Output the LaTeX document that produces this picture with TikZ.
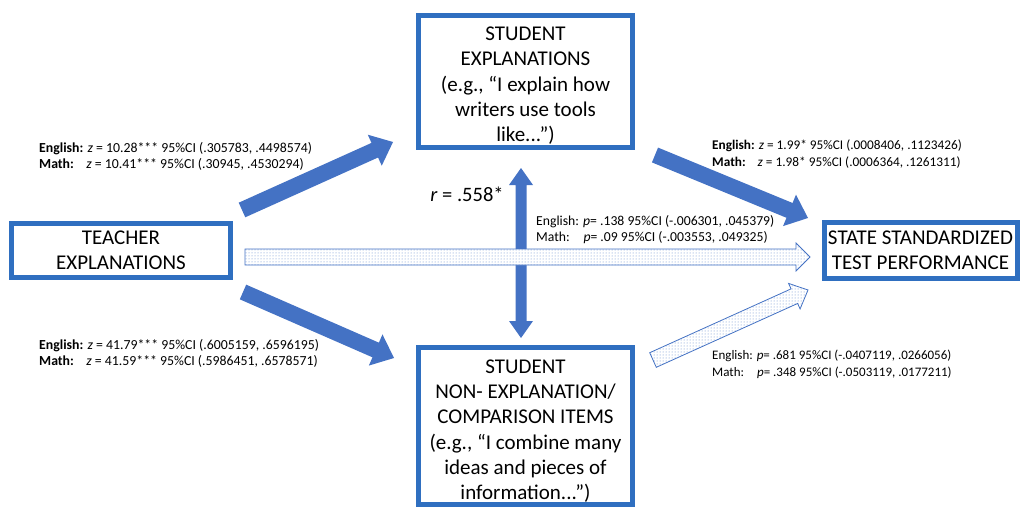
\documentclass[tikz,border=0pt]{standalone}
\usepackage{fontspec}
\setmainfont{Carlito}
\usetikzlibrary{calc,patterns}
\definecolor{arrblue}{RGB}{68,114,196}
\definecolor{boxblue}{RGB}{47,111,192}
% #1 style, #2 tail, #3 tip, #4 half shaft, #5 half head, #6 head length
\newcommand{\blockarr}[6]{%
  \coordinate (bA) at ($(#3)!#6!(#2)$);
  \path[#1] ($(#2)!#4!90:(#3)$) -- ($(bA)!#4!90:(#3)$) -- ($(bA)!#5!90:(#3)$) -- (#3)
    -- ($(bA)!#5!-90:(#3)$) -- ($(bA)!#4!-90:(#3)$) -- ($(#2)!#4!-90:(#3)$) -- cycle;}
\newcommand{\dblarr}[6]{%
  \coordinate (bA) at ($(#3)!#6!(#2)$);
  \coordinate (bB) at ($(#2)!#6!(#3)$);
  \path[#1] (#2) -- ($(bB)!#5!90:(#3)$) -- ($(bB)!#4!90:(#3)$) -- ($(bA)!#4!90:(#3)$)
    -- ($(bA)!#5!90:(#3)$) -- (#3) -- ($(bA)!#5!-90:(#3)$) -- ($(bA)!#4!-90:(#3)$)
    -- ($(bB)!#4!-90:(#3)$) -- ($(bB)!#5!-90:(#3)$) -- cycle;}
\tikzset{
  box/.style={draw=boxblue, line width=5pt, fill=white, align=center, inner sep=2pt,
    font=\fontsize{21}{25.3}\selectfont},
  solidarr/.style={fill=arrblue},
  dotarr/.style={draw=arrblue, line width=0.8pt, preaction={fill=white},
    pattern=dots, pattern color=arrblue!85},
  stat/.style={anchor=north west, align=left, inner sep=0pt},
}
\begin{document}
\begin{tikzpicture}[x=1pt,y=-1pt]
\useasboundingbox (0,0) rectangle (1022,508);

\node[box, minimum width=214pt, minimum height=132pt] (se) at (525.5,81.5)
  {\rule{0pt}{22pt}STUDENT\\EXPLANATIONS\\(e.g., “I explain how\\writers use tools\\like...”)};
\node[box, minimum width=219pt, minimum height=54pt] (te) at (121,250.5)
  {TEACHER\\EXPLANATIONS};
\node[box, minimum width=193pt, minimum height=56pt] (st) at (920.5,250.5)
  {STATE STANDARDIZED\\TEST PERFORMANCE};
\node[box, minimum width=214pt, minimum height=157pt] (ne) at (525.5,426)
  {\rule{0pt}{24pt}STUDENT\\NON- EXPLANATION/\\COMPARISON ITEMS\\(e.g., “I combine many\\ideas and pieces of\\information...”)};

% connector end points
\coordinate (a1t) at (242,210);  \coordinate (a1h) at (393,142);
\coordinate (a2t) at (243,292);  \coordinate (a2h) at (394,358);
\coordinate (a3t) at (655,155);  \coordinate (a3h) at (808,218);
\coordinate (vt) at (521,168);   \coordinate (vb) at (521,338);
\coordinate (ht) at (245,257);   \coordinate (hh) at (810,257);
\coordinate (dt) at (653,360);   \coordinate (dh) at (808,290);

\blockarr{solidarr}{a1t}{a1h}{8pt}{17pt}{20pt}
\blockarr{solidarr}{a2t}{a2h}{8pt}{17pt}{20pt}
\blockarr{solidarr}{a3t}{a3h}{8pt}{17pt}{20pt}
\dblarr{solidarr}{vt}{vb}{5.5pt}{12pt}{17pt}
\blockarr{dotarr}{ht}{hh}{8pt}{14pt}{14pt}
\blockarr{dotarr}{dt}{dh}{8pt}{14pt}{15pt}

\node[font=\fontsize{20.5}{24}\selectfont] (r) at (467,194) {\textit{r} = .558*};

\node[stat, font=\fontsize{13.8}{16.3}\selectfont] (l1) at (39,142)
  {\textbf{English:} \textit{z} = 10.28*** 95\%CI (.305783, .4498574)\\
  \textbf{Math:}\hspace{0.9em}\textit{z} = 10.41*** 95\%CI (.30945, .4530294)};
\node[stat, font=\fontsize{13.8}{16.3}\selectfont] (l2) at (39,339)
  {\textbf{English:} \textit{z} = 41.79*** 95\%CI (.6005159, .6596195)\\
  \textbf{Math:}\hspace{0.9em}\textit{z} = 41.59*** 95\%CI (.5986451, .6578571)};
\node[stat, font=\fontsize{13.3}{16.5}\selectfont] (l3) at (712,140)
  {\textbf{English:} \textit{z} = 1.99* 95\%CI (.0008406, .1123426)\\
  \textbf{Math:}\hspace{0.9em}\textit{z} = 1.98* 95\%CI (.0006364, .1261311)};
\node[stat, font=\fontsize{13.7}{16.5}\selectfont] (l4) at (536,215)
  {English: \textit{p}= .138 95\%CI (-.006301, .045379)\\
  Math:\hspace{1em}\textit{p}= .09 95\%CI (-.003553, .049325)};
\node[stat, font=\fontsize{13}{16.5}\selectfont] (l5) at (712,350)
  {English: \textit{p}= .681 95\%CI (-.0407119, .0266056)\\
  Math:\hspace{1em}\textit{p}= .348 95\%CI (-.0503119, .0177211)};
\end{tikzpicture}
\end{document}
